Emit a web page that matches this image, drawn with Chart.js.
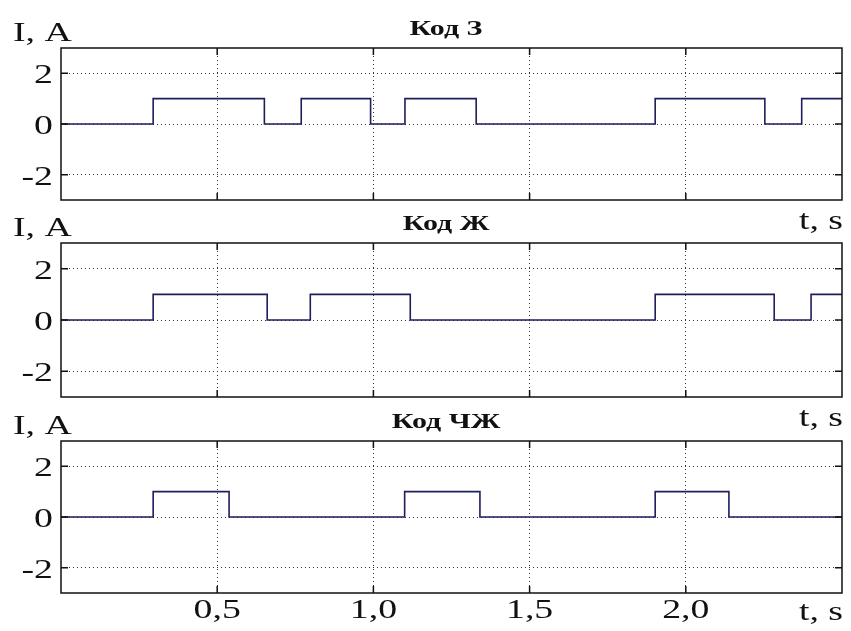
<!DOCTYPE html>
<html>
<head>
<meta charset="utf-8">
<script src="https://cdn.jsdelivr.net/npm/chart.js@4"></script>
<style>
  body { margin: 0; background: #fff; }
  #wrap { position: relative; width: 851px; height: 631px; }
  #wrap canvas { position: absolute; left: 0; top: 0; }
</style>
</head>
<body>
<div id="wrap">
  <canvas id="c1" width="851" height="631"></canvas>
  <canvas id="c2" width="851" height="631"></canvas>
  <canvas id="c3" width="851" height="631"></canvas>
</div>
<script>
// ─── data (switching instants, s / current level, A) ───
const tZ = [0, 0.295, 0.651, 0.769, 0.991, 1.101, 1.329, 1.902, 2.253, 2.371, 2.5];
const iZ = [0, 1, 0, 1, 0, 1, 0, 1, 0, 1, 1];

const tZh = [0, 0.295, 0.660, 0.798, 1.118, 1.902, 2.283, 2.401, 2.5];
const iZh = [0, 1, 0, 1, 0, 1, 0, 1, 1];

const tChZh = [0, 0.295, 0.538, 1.100, 1.341, 1.902, 2.138, 2.5];
const iChZh = [0, 1, 0, 1, 0, 1, 0, 0];

const xTicks = [0.5, 1.0, 1.5, 2.0];
const xTickLabels = ['0,5', '1,0', '1,5', '2,0'];
const yTicks = [-2, 0, 2];
const yTickLabels = ['-2', '0', '2'];

const SERIF = '"Liberation Serif", "Times New Roman", serif';

// draws text stretched horizontally (the source is a widened scan)
function wideText(ctx, text, x, y, align, sx) {
    const w = ctx.measureText(text).width * sx;
    const x0 = align === 'right' ? x - w : align === 'center' ? x - w / 2 : x;
    ctx.save();
    ctx.translate(x0, y);
    ctx.scale(sx, 1);
    ctx.textAlign = 'left';
    ctx.fillText(text, 0, 0);
    ctx.restore();
}

const decor = {
    id: 'decor',
    afterDraw(chart, args, opts) {
        const { ctx, chartArea: a, scales: { x, y } } = chart;
        ctx.save();
        // frame
        ctx.strokeStyle = '#111';
        ctx.lineWidth = 1.5;
        ctx.strokeRect(a.left, a.top, a.right - a.left, a.bottom - a.top);
        // inner tick marks
        ctx.beginPath();
        xTicks.forEach(v => {
            const px = x.getPixelForValue(v);
            ctx.moveTo(px, a.top); ctx.lineTo(px, a.top + 7);
            ctx.moveTo(px, a.bottom); ctx.lineTo(px, a.bottom - 7);
        });
        yTicks.forEach(v => {
            const py = y.getPixelForValue(v);
            ctx.moveTo(a.left, py); ctx.lineTo(a.left + 7, py);
            ctx.moveTo(a.right, py); ctx.lineTo(a.right - 7, py);
        });
        ctx.stroke();

        ctx.fillStyle = '#111';
        ctx.textBaseline = 'alphabetic';
        // y tick labels
        ctx.font = '28px ' + SERIF;
        yTicks.forEach((v, i) => {
            wideText(ctx, yTickLabels[i], a.left - 8, y.getPixelForValue(v) + 10, 'right', 1.35);
        });
        // x tick labels
        if (opts.showX) {
            xTicks.forEach((v, i) => {
                wideText(ctx, xTickLabels[i], x.getPixelForValue(v), a.bottom + 25, 'center', 1.35);
            });
        }
        // axis names
        wideText(ctx, 'I, A', 13, a.top - 7, 'left', 1.35);
        wideText(ctx, 't, s', 843, a.bottom + (opts.showX ? 27 : 29), 'right', 1.35);
        // panel title
        ctx.font = 'bold 20px ' + SERIF;
        wideText(ctx, opts.title, 446, a.top - 13, 'center', 1.5);
        ctx.restore();
    }
};

function makePanel(id, tArr, iArr, top, bottom, title, showX) {
    new Chart(document.getElementById(id), {
        type: 'line',
        data: {
            datasets: [{
                data: tArr.map((t, k) => ({ x: t, y: iArr[k] })),
                stepped: true,
                borderColor: '#1e1e5c',
                borderWidth: 1.6,
                pointRadius: 0,
                fill: false
            }]
        },
        options: {
            responsive: false,
            animation: false,
            layout: { padding: { top: top, bottom: 631 - bottom, left: 0, right: 9 } },
            scales: {
                x: {
                    type: 'linear',
                    min: 0,
                    max: 2.5,
                    afterBuildTicks: s => { s.ticks = xTicks.map(v => ({ value: v })); },
                    afterFit: s => { s.height = 0; },
                    ticks: { display: false },
                    grid: { color: '#333', lineWidth: 1, drawTicks: false },
                    border: { display: false, dash: [1, 3] }
                },
                y: {
                    min: -3,
                    max: 3,
                    afterBuildTicks: s => { s.ticks = yTicks.map(v => ({ value: v })); },
                    afterFit: s => { s.width = 61; },
                    ticks: { display: false },
                    grid: { color: '#333', lineWidth: 1, drawTicks: false },
                    border: { display: false, dash: [1, 3] }
                }
            },
            plugins: {
                legend: { display: false },
                tooltip: { enabled: false },
                decor: { title: title, showX: showX }
            }
        },
        plugins: [decor]
    });
}

makePanel('c1', tZ, iZ, 48, 200, 'Код З', false);
makePanel('c2', tZh, iZh, 243, 397, 'Код Ж', false);
makePanel('c3', tChZh, iChZh, 441, 593, 'Код ЧЖ', true);
</script>
</body>
</html>
